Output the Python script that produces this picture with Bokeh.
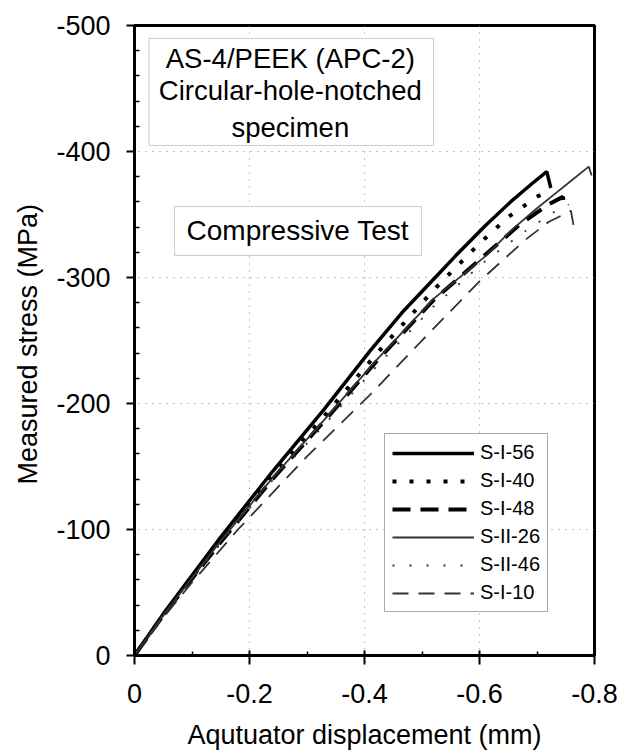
from bokeh.plotting import figure
from bokeh.models import (Range1d, FixedTicker, CustomJSTickFormatter, BoxAnnotation,
                          Label, Legend, LegendItem)
from bokeh.embed import file_html
from bokeh.resources import INLINE

FONT = "Liberation Sans"

# Compressive test records: actuator displacement (mm) vs measured stress (MPa)
s_i_56_disp = [0, -0.05, -0.15, -0.24, -0.329, -0.41, -0.465, -0.523, -0.558, -0.61, -0.654, -0.69, -0.717, -0.724]
s_i_56_stress = [0, -33, -94, -146, -195, -242, -272, -300, -317, -341, -360, -374, -384, -371]

s_i_40_disp = [0, -0.05, -0.15, -0.24, -0.33, -0.42, -0.52, -0.60, -0.65, -0.70, -0.72]
s_i_40_stress = [0, -32, -92, -143, -190, -239, -290, -327, -348, -364, -369]

s_i_48_disp = [0, -0.05, -0.15, -0.24, -0.33, -0.42, -0.52, -0.61, -0.67, -0.72, -0.745, -0.748]
s_i_48_stress = [0, -32, -90, -140, -186, -233, -282, -318, -342, -358, -364, -356]

s_ii_26_disp = [0, -0.05, -0.15, -0.24, -0.33, -0.42, -0.52, -0.613, -0.654, -0.70, -0.73, -0.76, -0.79, -0.795]
s_ii_26_stress = [0, -32, -91, -141, -187, -234, -283, -318, -337, -355, -366, -377, -388, -381]

s_ii_46_disp = [0, -0.05, -0.15, -0.24, -0.33, -0.42, -0.52, -0.61, -0.68, -0.73, -0.755]
s_ii_46_stress = [0, -31, -89, -139, -183, -229, -277, -313, -337, -352, -358]

s_i_10_disp = [0, -0.05, -0.10, -0.18, -0.30, -0.41, -0.50, -0.60, -0.68, -0.72, -0.759, -0.766]
s_i_10_stress = [0, -30, -58, -100, -158, -207, -250, -297, -330, -344, -353, -335]

series_labels = ["S-I-56", "S-I-40", "S-I-48", "S-II-26", "S-II-46", "S-I-10"]

x_ticks = [0, -0.2, -0.4, -0.6, -0.8]
x_minor = [-0.1, -0.3, -0.5, -0.7]
y_ticks = [0, -100, -200, -300, -400, -500]
y_minor = [v for v in range(-20, -500, -20) if v % 100 != 0]

p = figure(width=621, height=754, output_backend="svg", toolbar_location=None,
           x_range=Range1d(0, -0.8), y_range=Range1d(0, -500),
           min_border_left=134, min_border_right=27, min_border_top=25, min_border_bottom=99)
p.background_fill_color = "white"
p.border_fill_color = "white"
p.outline_line_color = "black"
p.outline_line_width = 3

# axes
p.xaxis.ticker = FixedTicker(ticks=x_ticks, minor_ticks=x_minor)
p.yaxis.ticker = FixedTicker(ticks=y_ticks, minor_ticks=y_minor)
p.xaxis.formatter = CustomJSTickFormatter(code="return Math.abs(tick) < 1e-9 ? '0' : tick.toFixed(1);")
p.yaxis.formatter = CustomJSTickFormatter(code="return Math.abs(tick) < 1e-9 ? '0' : tick.toFixed(0);")
for ax in (p.xaxis, p.yaxis):
    ax.axis_line_width = 3
    ax.axis_line_color = "black"
    ax.major_tick_line_width = 2
    ax.minor_tick_line_width = 1.5
    ax.major_label_text_font = FONT
    ax.major_label_text_font_size = "27px"
    ax.major_label_text_color = "black"
    ax.axis_label_text_font = FONT
    ax.axis_label_text_font_size = "27px"
    ax.axis_label_text_font_style = "normal"
    ax.axis_label_text_color = "black"
p.xaxis.major_tick_in = 5
p.xaxis.major_tick_out = 9
p.xaxis.minor_tick_in = 4
p.xaxis.minor_tick_out = 0
p.xaxis.major_label_standoff = 19
p.xaxis.axis_label_standoff = 14
p.yaxis.major_tick_in = 0
p.yaxis.major_tick_out = 8
p.yaxis.minor_tick_in = 5
p.yaxis.minor_tick_out = 0
p.yaxis.major_label_standoff = 16
p.yaxis.axis_label_standoff = 10
p.xaxis.axis_label = "Aqutuator displacement (mm)"
p.yaxis.axis_label = "Measured stress  (MPa)"

# dotted grid
for g in (p.xgrid, p.ygrid):
    g.grid_line_color = "#888888"
    g.grid_line_width = 1
    g.grid_line_dash = "1 6"

# curves
r1 = p.line(s_i_56_disp, s_i_56_stress, line_color="black", line_width=3.5)
r2 = p.line(s_i_40_disp, s_i_40_stress, line_color="black", line_width=4, line_dash="4 13")
r3 = p.line(s_i_48_disp, s_i_48_stress, line_color="black", line_width=4, line_dash="18 10")
r4 = p.line(s_ii_26_disp, s_ii_26_stress, line_color="#333333", line_width=1.8)
r5 = p.line(s_ii_46_disp, s_ii_46_stress, line_color="#333333", line_width=1.8, line_dash="2 15")
r6 = p.line(s_i_10_disp, s_i_10_stress, line_color="#333333", line_width=1.8, line_dash="16 10")

legend = Legend(items=[LegendItem(label=lab, renderers=[r])
                       for lab, r in zip(series_labels, [r1, r2, r3, r4, r5, r6])],
                location=(250, 43))
legend.label_text_font = FONT
legend.label_text_font_size = "20px"
legend.label_text_color = "black"
legend.glyph_width = 82
legend.glyph_height = 22
legend.label_standoff = 6
legend.spacing = 5
legend.padding = 7
legend.margin = 0
legend.border_line_color = "#555555"
legend.border_line_width = 1
legend.background_fill_color = "white"
legend.background_fill_alpha = 1
p.add_layout(legend)

# material / specimen description box
p.add_layout(BoxAnnotation(left=-0.0252, right=-0.52, top=-489.7, bottom=-404.8,
                           fill_color="white", fill_alpha=1, line_color="#555555", line_width=1))
for txt, yy in [("AS-4/PEEK (APC-2)", -473.8), ("Circular-hole-notched", -448.4), ("specimen", -419.0)]:
    p.add_layout(Label(x=-0.271, y=yy, text=txt, text_font=FONT, text_font_size="27.5px",
                       text_align="center", text_baseline="middle", text_color="black"))

# test type box
p.add_layout(BoxAnnotation(left=-0.0696, right=-0.499, top=-356.3, bottom=-317.5,
                           fill_color="white", fill_alpha=1, line_color="#555555", line_width=1))
p.add_layout(Label(x=-0.284, y=-337.0, text="Compressive Test", text_font=FONT, text_font_size="28px",
                   text_align="center", text_baseline="middle", text_color="black"))

open("out.html", "w").write(file_html(p, INLINE))
